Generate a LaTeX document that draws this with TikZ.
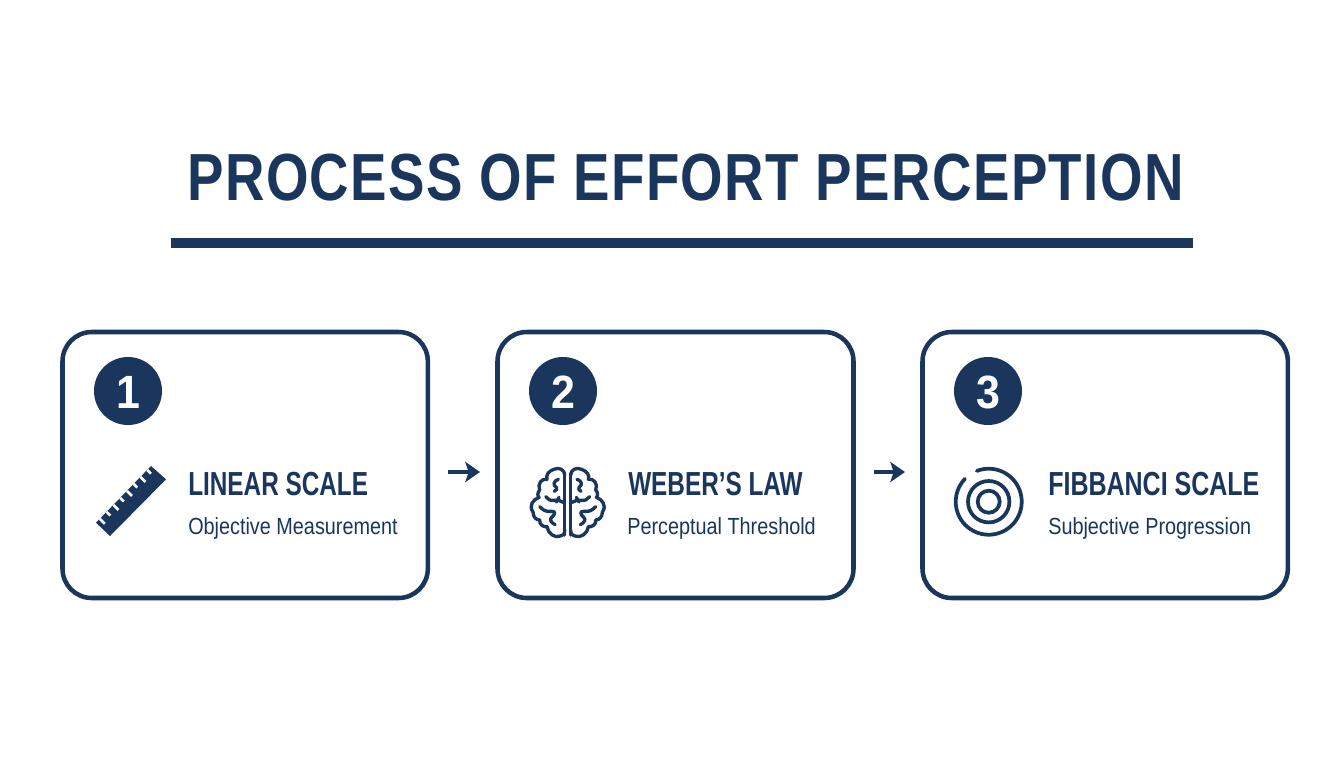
\documentclass[tikz,border=0pt]{standalone}
\usepackage{fontspec}
\setmainfont{Liberation Sans}
\newfontfamily\titlefont[FakeStretch=0.82,LetterSpace=2.1]{Liberation Sans}
\newfontfamily\headfont[FakeStretch=0.73]{Liberation Sans}
\newfontfamily\headfontb[FakeStretch=0.75]{Liberation Sans}
\newfontfamily\numfont[FakeStretch=0.92]{Liberation Sans}
\newfontfamily\subfont[FakeStretch=0.85]{Liberation Sans}
\usetikzlibrary{arrows.meta,calc}
\definecolor{navy}{HTML}{1A365D}
\tikzset{
  x=0.75pt,y=-0.75pt,
  card/.style={draw=navy,line width=3.4pt,rounded corners=22pt,fill=white,anchor=north west,inner sep=0pt,outer sep=0pt},
  badge/.style={circle,fill=navy,minimum size=51pt,inner sep=0pt},
  numtext/.style={anchor=base,text=white,font=\numfont\bfseries\fontsize{35}{35}\selectfont,inner sep=0pt},
  head/.style={anchor=base west,text=navy,inner sep=0pt,font=\headfont\bfseries\fontsize{25}{25}\selectfont},
  sub/.style={anchor=base west,text=navy,inner sep=0pt,font=\subfont\fontsize{17.5}{18}\selectfont},
  flow/.style={draw=navy,line width=2.3pt,-{Stealth[length=11pt,width=15pt,inset=2.5pt]}},
  icon/.style={draw=navy,line width=2.8pt,line cap=round,line join=round},
  brain/.style={icon,line width=2.5pt}
}
\begin{document}
\begin{tikzpicture}
\useasboundingbox (0,0) rectangle (1344,768);
\fill[white] (0,0) rectangle (1344,768);
\node[anchor=base,text=navy,inner sep=0pt,font=\titlefont\bfseries\fontsize{50}{50}\selectfont] (title) at (685.5,200) {PROCESS OF EFFORT PERCEPTION};
\fill[navy] (171,238) rectangle (1193,248);
% cards
\node[card,minimum width=274pt,minimum height=199.5pt] (c1) at (62.5,332) {};
\node[card,minimum width=267pt,minimum height=199.5pt] (c2) at (497.5,332) {};
\node[card,minimum width=274pt,minimum height=199.5pt] (c3) at (922.5,332) {};
% badges
\node[badge] (b1) at (128,391) {};
\node[badge] (b2) at (563,391) {};
\node[badge] (b3) at (988,391) {};
\node[numtext] (n1) at (128,408) {1};
\node[numtext] (n2) at (563,408) {2};
\node[numtext] (n3) at (988,408) {3};
% text
\node[head] (h1) at (188,495) {LINEAR SCALE};
\node[sub] (s1) at (188,534) {Objective Measurement};
\node[head] (h2) at (628,495) {WEBER’S LAW};
\node[sub] (s2) at (627,534) {Perceptual Threshold};
\node[head,font=\headfontb\bfseries\fontsize{25}{25}\selectfont] (h3) at (1048,495) {FIBBANCI SCALE};
\node[sub] (s3) at (1048,534) {Subjective Progression};
% arrows
\coordinate (a1s) at (448,472); \coordinate (a1e) at (480,472);
\coordinate (a2s) at (874,472); \coordinate (a2e) at (905,472);
\draw[flow] (a1s) -- (a1e);
\draw[flow] (a2s) -- (a2e);
% ruler
\fill[navy] (96,522.7) -- (110,536) -- (166,479.3) -- (151,466) -- cycle;
\foreach \i in {0,...,7}{
  \pgfmathsetmacro{\t}{0.07+\i*0.123}
  \pgfmathsetmacro{\l}{mod(\i,2)==0 ? 0.38 : 0.28}
  \draw[white,line width=2pt]
    ($(96,522.7)!\t!(151,466)$) -- ++({\l*13.3*1.0},{\l*13.3});
}
% brain
\begin{scope}[shift={(567.7,440)},x=0.25pt,y=-0.25pt]
\foreach \m in {1,-1}{
\begin{scope}[xscale=\m]
\draw[brain,rounded corners=6pt] (-9,285) -- (-9,100) ;
\draw[brain] (-9,105) .. controls (-9,90) and (-25,80) .. (-42,88)
  .. controls (-58,94) and (-66,105) .. (-62,118)
  .. controls (-78,114) and (-92,132) .. (-84,150)
  .. controls (-92,158) and (-90,170) .. (-86,172)
  .. controls (-104,178) and (-118,198) .. (-104,216)
  .. controls (-104,232) and (-94,240) .. (-84,240)
  .. controls (-86,254) and (-72,262) .. (-62,260)
  .. controls (-60,280) and (-38,296) .. (-22,288)
  .. controls (-14,288) and (-9,282) .. (-9,270);
\draw[brain] (-28,118) .. controls (-42,122) and (-46,135) .. (-34,142) .. controls (-30,146) and (-34,150) .. (-40,154);
\draw[brain] (-66,170) -- (-54,180) .. controls (-44,184) and (-30,176) .. (-13,187);
\draw[brain] (-34,186) -- (-26,172);
\draw[brain] (-84,200) .. controls (-74,210) and (-66,216) .. (-50,214) .. controls (-36,212) and (-36,222) .. (-48,232) .. controls (-56,238) and (-50,248) .. (-38,254);
\end{scope}}
\end{scope}
% target
\begin{scope}[shift={(988.7,501.7)}]
\draw[icon] (-111:33) arc[start angle=-111,end angle=224,radius=33];
\draw[icon] (0,0) circle[radius=20.7];
\draw[icon] (0,0) circle[radius=11];
\end{scope}
\end{tikzpicture}
\end{document}
